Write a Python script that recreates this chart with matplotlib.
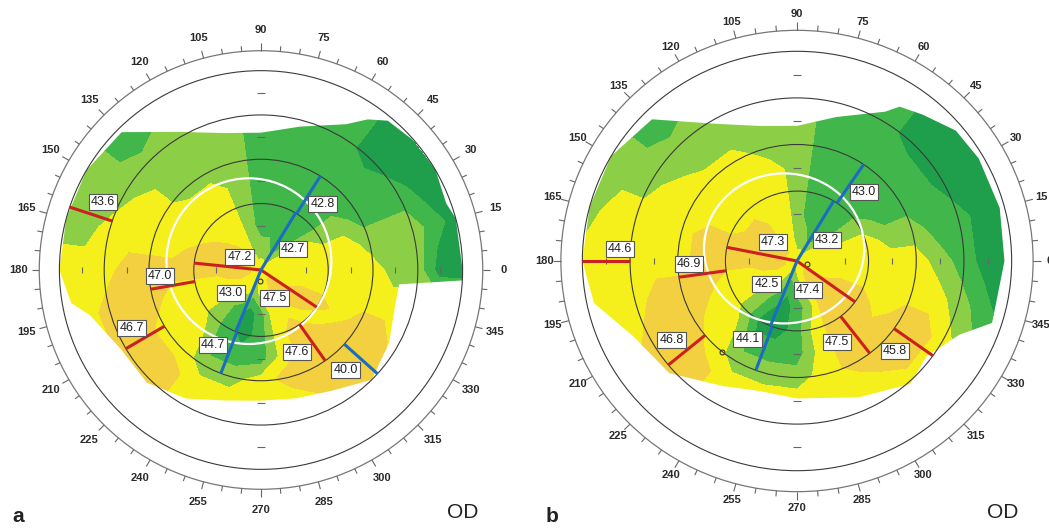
import numpy as np
import matplotlib
matplotlib.use('Agg')
import matplotlib.pyplot as plt
from matplotlib.patches import Polygon, Ellipse, Circle
from matplotlib.collections import LineCollection

plt.rcParams['font.family'] = ['Liberation Sans', 'DejaVu Sans']

W, H = 1049, 530

# colour classes of the topography: dark green, mid green, light green, yellow, orange
CLASS_POWER = {'D': 42.5, 'M': 43.5, 'L': 44.5, 'Y': 45.5, 'O': 46.5}
LEVELS = [42.0, 43.0, 44.0, 45.0, 46.0, 47.0]
MAP_COLOURS = ['#1f9f4b', '#41b64b', '#8ccf46', '#f5ef1c', '#f2d040']

# polar sampling of the maps: one string per angle, one char per radius
ANGLES = list(range(0, 360, 15))
RADII = [0.0, 0.5, 1.0, 1.5, 2.0, 2.5, 3.0, 3.5, 4.0, 4.5]
ZONE_RINGS = [1.5, 2.5, 3.5, 4.5]

a_map = ["YYYYYYLLDD", "YYYYYLLLMD", "YYYLLMMMDD", "YLMMMMMDDD",
         "YMMMMMMMMM", "YLMMMMMMMM", "YLMMMMMMMM", "YLLLLLLLLL",
         "YYYYYLLLLL", "YOYYYLLLMM", "YOOYYYYLLL", "YOOOYYYYLL",
         "YOOOOOOYYY", "YOYYYOOOYY", "YYYYYYOOYY", "YYLLYYOOOO",
         "YYMMMLYYYY", "YLDDMLYYYY", "YYMMMYYYYY", "YYYYYOYYYY",
         "YOYOOOOYYY", "YOOYOOOOYY", "YYOOYOOYYY", "YYYYYYYYYY"]
b_map = ["YYYYYYLMDD", "YYYYLLMMDD", "YYLLMMMDDD", "YLMMMMMDDD",
         "YMMMMMMMMM", "YLMMMMMMMM", "YLLLLLLLLL", "YYYYYLLLLL",
         "YYYYYYLLLL", "YOOYYYLLMM", "YOOYYYYLLL", "YOOOOYYYYL",
         "YOOOOYYYYY", "YOYYOOOYYY", "YYYYYOOOYY", "YYLLYYOOYY",
         "YLMDMLYYYY", "YMDDMLYYYY", "YLMMMLYYYY", "YYLYYYYYYY",
         "YOOOOOYYYY", "YOOOOOOYYY", "YYOOYOOYLL", "YYYYYYYLMD"]

# outline of the measured area (degrees, mm)
a_edge_deg = [0, 15, 20, 30, 40, 50, 55, 60, 75, 90, 105, 120, 135, 150, 165, 180,
              190, 195, 210, 225, 240, 255, 270, 285, 300, 315, 330, 345, 354, 357]
a_edge_r = [4.5, 4.5, 4.4, 4.5, 4.5, 4.4, 4.15, 3.8, 3.35, 3.1, 3.2, 3.6, 4.4, 4.5, 4.5, 4.5,
            4.3, 3.95, 3.6, 3.6, 3.35, 3.05, 2.95, 3.0, 3.15, 3.5, 3.3, 3.1, 3.1, 4.5]
b_edge_deg = [0, 15, 30, 40, 50, 57, 60, 75, 90, 105, 120, 135, 150, 165, 180,
              192, 205, 222, 240, 254, 270, 294, 312, 323, 335, 342]
b_edge_r = [4.35, 4.4, 4.4, 4.35, 4.1, 3.95, 3.7, 3.2, 2.9, 3.0, 3.4, 4.3, 4.5, 4.5, 4.5,
            4.35, 3.8, 3.6, 3.1, 2.9, 2.95, 3.2, 3.55, 3.4, 3.75, 4.3]

# semi-meridian readings: zone (inner, outer radius), angle, steep/flat, K value
a_r0 = [0, 0, 0, 0, 1.5, 1.5, 1.5, 1.5, 2.5, 2.5, 3.5]
a_r1 = [1.5, 1.5, 1.5, 1.5, 2.5, 2.5, 2.5, 2.5, 3.5, 3.5, 4.5]
a_deg = [174, 326, 59, 248, 190, 305, 58, 249, 210.5, 318, 161.6]
a_kind = ['s', 's', 'f', 'f', 's', 's', 'f', 'f', 's', 'f', 's']
a_val = [47.2, 47.5, 42.7, 43.0, 47.0, 47.6, 42.8, 44.7, 46.7, 40.0, 43.6]

b_r0 = [0, 0, 0, 0, 1.5, 1.5, 1.5, 1.5, 2.5, 2.5, 3.5]
b_r1 = [1.5, 1.5, 1.5, 1.5, 2.5, 2.5, 2.5, 2.5, 3.5, 3.5, 4.5]
b_deg = [168.7, 324.2, 59.2, 248.2, 188, 307.6, 56, 249.8, 219.6, 324.5, 180]
b_kind = ['s', 's', 'f', 'f', 's', 's', 'f', 'f', 's', 's', 's']
b_val = [47.3, 47.4, 43.2, 42.5, 46.9, 47.5, 43.0, 44.1, 46.8, 45.8, 44.6]

# where the value boxes sit (mm from centre)
a_lab_xy = [(-0.48, 0.30), (0.30, -0.64), (0.72, 0.47), (-0.67, -0.51), (-2.26, -0.13),
            (0.80, -1.86), (1.37, 1.50), (-1.07, -1.69), (-2.89, -1.30), (1.89, -2.26),
            (-3.52, 1.54)]
b_lab_xy = [(-0.50, 0.40), (0.23, -0.63), (0.63, 0.46), (-0.64, -0.50), (-2.26, -0.06),
            (0.84, -1.73), (1.40, 1.47), (-1.04, -1.68), (-2.63, -1.70), (2.05, -1.93),
            (-3.71, 0.26)]

fig = plt.figure(figsize=(W / 100, H / 100), dpi=100)
fig.patch.set_facecolor('white')


def draw_panel(ax, cx, cy, sx, sy, mp, edge_deg, edge_r, r0s, r1s, degs, kinds, vals,
               lab_xy, pupil, dots, letter, txt_x, lab_r):
    ax.set_xlim(-cx / sx, (W - cx) / sx)
    ax.set_ylim((cy - H) / sy, cy / sy)
    ax.axis('off')
    ax.patch.set_alpha(0)

    th = np.deg2rad(ANGLES + [360])
    TH, RR = np.meshgrid(th, np.array(RADII), indexing='ij')
    Z = np.array([[CLASS_POWER[c] for c in row] for row in mp + [mp[0]]])
    cs = ax.contourf(RR * np.cos(TH), RR * np.sin(TH), Z, levels=LEVELS,
                     colors=MAP_COLOURS, zorder=1)
    et = np.deg2rad(edge_deg)
    edge = Polygon(np.column_stack([np.array(edge_r) * np.cos(et),
                                    np.array(edge_r) * np.sin(et)]),
                   closed=True, transform=ax.transData)
    cs.set_clip_path(edge)

    # zone rings and outer degree ring
    for r in ZONE_RINGS:
        ax.add_patch(Circle((0, 0), r, fill=False, ec='#3a3a3a', lw=0.8, zorder=3))
    ax.add_patch(Circle((0, 0), 4.95, fill=False, ec='#777777', lw=0.9, zorder=3))
    segs = []
    for d in range(0, 360, 5):
        t = np.deg2rad(d)
        ln = 0.17 if d % 15 == 0 else 0.12
        segs.append([(4.95 * np.cos(t), 4.95 * np.sin(t)),
                     ((4.95 + ln) * np.cos(t), (4.95 + ln) * np.sin(t))])
    ax.add_collection(LineCollection(segs, colors='#666666', lw=0.8, zorder=3))
    for d in range(0, 360, 15):
        t = np.deg2rad(d)
        ax.text(lab_r * np.cos(t), lab_r * np.sin(t), str(d), ha='center', va='center',
                fontsize=8, fontweight='bold', color='#2a2a2a', zorder=4)

    # millimetre marks on the axes
    marks = []
    for k in [-4, -3, -2, -1, 1, 2, 3, 4]:
        marks.append([(k, -0.06), (k, 0.06)])
        marks.append([(-0.08, k), (0.08, k)])
    ax.add_collection(LineCollection(marks, colors='#666666', lw=0.8, zorder=3))

    # pupil edge
    px, py, prx, pry = pupil
    ax.add_patch(Ellipse((px, py), 2 * prx, 2 * pry, fill=False, ec='white', lw=1.6, zorder=4))
    for dx, dy in dots:
        ax.plot(dx, dy, 'o', mfc='none', mec='#333333', ms=3.5, mew=0.8, zorder=5)

    for r0, r1, d, k in zip(r0s, r1s, degs, kinds):
        t = np.deg2rad(d)
        ax.plot([r0 * np.cos(t), r1 * np.cos(t)], [r0 * np.sin(t), r1 * np.sin(t)],
                color='#cc2020' if k == 's' else '#1b6cc2', lw=2.2,
                solid_capstyle='butt', zorder=6)
    for v, (lx, ly) in zip(vals, lab_xy):
        ax.text(lx, ly, f'{v:.1f}', ha='center', va='center', fontsize=9, color='#222222',
                zorder=7, bbox=dict(boxstyle='square,pad=0.16', fc='white', ec='#555555', lw=0.8))

    # panel letter and eye
    ax.text((txt_x[0] - cx) / sx, (cy - 516) / sy, letter, ha='center', va='center',
            fontsize=15, fontweight='bold', color='#222222')
    ax.text((txt_x[1] - cx) / sx, (cy - 512) / sy, 'OD', ha='center', va='center',
            fontsize=15, color='#222222')


ax_a = fig.add_axes([0, 0, 1, 1])
draw_panel(ax_a, 261, 270, 44.8, 44.3, a_map, a_edge_deg, a_edge_r,
           a_r0, a_r1, a_deg, a_kind, a_val, a_lab_xy,
           (-0.27, 0.2, 1.84, 1.87), [(-0.02, -0.25)], 'a', (18, 463), 5.42)

ax_b = fig.add_axes([0, 0, 1, 1])
draw_panel(ax_b, 797, 261, 47.7, 46.6, b_map, b_edge_deg, b_edge_r,
           b_r0, b_r1, b_deg, b_kind, b_val, b_lab_xy,
           (-0.27, 0.27, 1.68, 1.61), [(0.2, -0.06), (-1.57, -1.95)], 'b', (552, 1003), 5.3)

fig.savefig('out.png', dpi=100, facecolor='white')
